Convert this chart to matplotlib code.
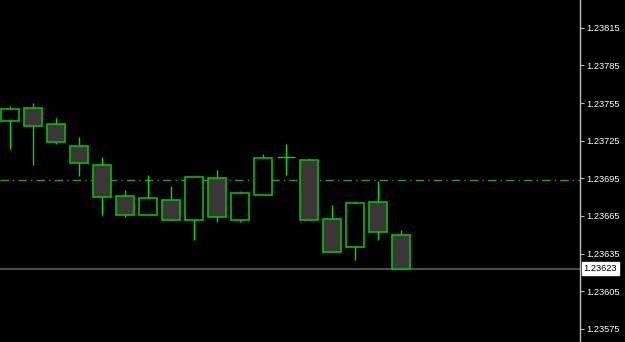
import matplotlib
matplotlib.use("Agg")
import matplotlib.pyplot as plt
import numpy as np

# ---- data ----
opens  = [1.23741, 1.23751, 1.23738, 1.23721, 1.23706, 1.23681, 1.23666, 1.23678, 1.23662,
          1.23695, 1.23662, 1.23682, 1.23712, 1.23710, 1.23663, 1.23640, 1.23676, 1.23650]
highs  = [1.23753, 1.23755, 1.23743, 1.23728, 1.23712, 1.23686, 1.23698, 1.23689, 1.23696,
          1.23702, 1.23685, 1.23714, 1.23722, 1.23711, 1.23674, 1.23677, 1.23693, 1.23654]
lows   = [1.23718, 1.23706, 1.23722, 1.23697, 1.23666, 1.23664, 1.23666, 1.23662, 1.23646,
          1.23660, 1.23660, 1.23682, 1.23698, 1.23662, 1.23636, 1.23630, 1.23646, 1.23623]
closes = [1.23750, 1.23737, 1.23724, 1.23707, 1.23680, 1.23666, 1.23679, 1.23662, 1.23696,
          1.23664, 1.23683, 1.23711, 1.23712, 1.23662, 1.23636, 1.23675, 1.23652, 1.23623]
ticks = [1.23575, 1.23605, 1.23635, 1.23665, 1.23695, 1.23725, 1.23755, 1.23785, 1.23815]
tick_labels = ["1.23575", "1.23605", "1.23635", "1.23665", "1.23695",
               "1.23725", "1.23755", "1.23785", "1.23815"]
level_line = 1.23694
last_price = 1.23623
last_label = "1.23623"

BG = "black"
EDGE = "#00c000"
WICK = "#00dd00"
BEAR_FILL = "#3d3638"
BULL_FILL = "black"
FONT = "Liberation Sans"
FS = 6.7

fig = plt.figure(figsize=(6.25, 3.42), dpi=100, facecolor=BG)
ax = fig.add_axes([0, 0, 580 / 625, 1])
ax.set_facecolor(BG)

x = np.arange(len(opens))
o = np.array(opens); c = np.array(closes); h = np.array(highs); l = np.array(lows)

ax.vlines(x, l, h, color=WICK, linewidth=1.0, zorder=2)

bull = c > o
bear = c < o
doji = c == o
width = 0.78
ax.bar(x[bull], (c - o)[bull], bottom=o[bull], width=width, facecolor=BULL_FILL,
       edgecolor=EDGE, linewidth=1.2, zorder=3)
ax.bar(x[bear], (o - c)[bear], bottom=c[bear], width=width, facecolor=BEAR_FILL,
       edgecolor=EDGE, linewidth=1.2, zorder=3)
ax.hlines(o[doji], x[doji] - width / 2, x[doji] + width / 2, color=WICK, linewidth=1.0, zorder=3)

ax.axhline(level_line, color="#2e9e2e", linewidth=1.0, linestyle=(0, (6, 3, 1, 3)), zorder=1)
ax.axhline(last_price, color="#4a5056", linewidth=1.4, zorder=1)

ax.set_xlim(-10 / 23, 570 / 23)
ax.set_ylim(1.235646, 1.238371)

for s in ["top", "left", "bottom"]:
    ax.spines[s].set_visible(False)
ax.spines["right"].set_color("#c0c0c0")
ax.spines["right"].set_linewidth(1.0)
ax.set_xticks([])
ax.yaxis.tick_right()
ax.set_yticks(ticks)
ax.set_yticklabels(tick_labels)
ax.tick_params(axis="y", colors="#c0c0c0", length=3, width=0.8, pad=1.5, labelsize=FS)
for t in ax.get_yticklabels():
    t.set_color("white")
    t.set_fontfamily(FONT)

ax.text(1.006, last_price, last_label, transform=ax.get_yaxis_transform(),
        color="black", fontsize=FS, va="center", ha="left", fontfamily=FONT,
        bbox=dict(boxstyle="square,pad=0.2", facecolor="white", edgecolor="white"),
        clip_on=False, zorder=10)

fig.savefig("out.png", dpi=100, facecolor=BG)
